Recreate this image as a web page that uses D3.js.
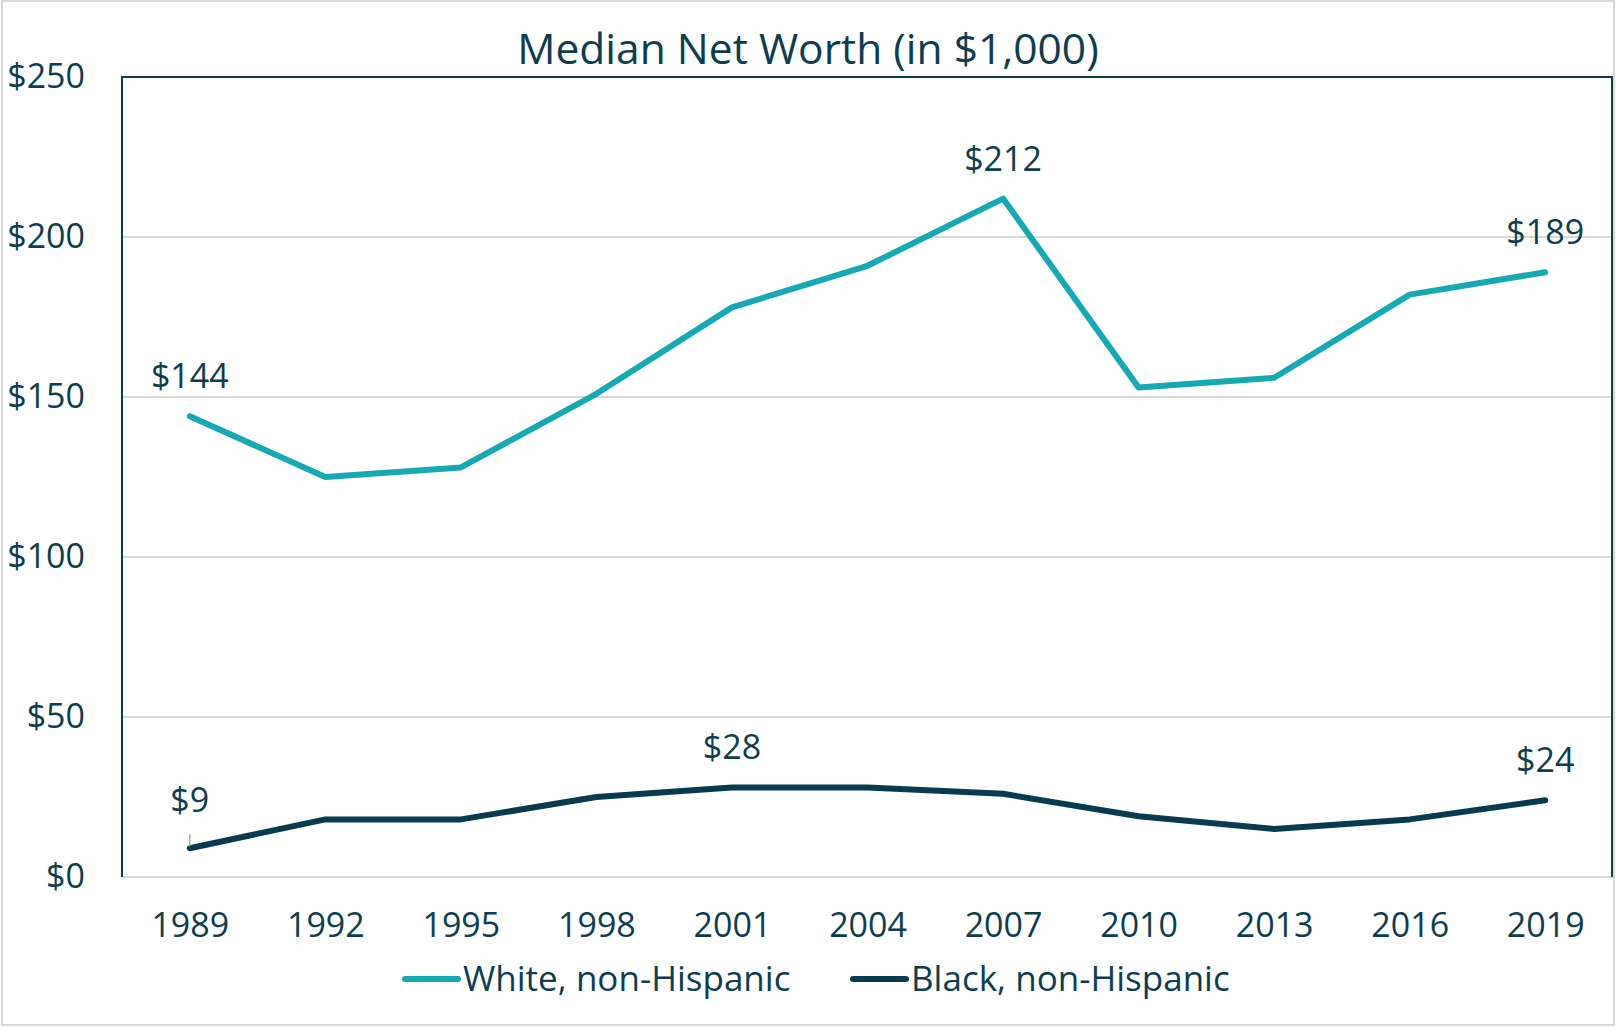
<!DOCTYPE html>
<html><head><meta charset="utf-8">
<script src="https://cdn.jsdelivr.net/npm/d3@7"></script>
<style>html,body{margin:0;padding:0;background:#fff;}svg{display:block;}</style>
</head><body>
<script>
const years = ["1989","1992","1995","1998","2001","2004","2007","2010","2013","2016","2019"];
const whiteValues = [144,125,128,151,178,191,212,153,156,182,189];
const blackValues = [9,18,18,25,28,28,26,19,15,18,24];
const yTicks = [0,50,100,150,200,250];
const seriesNames = ["White, non-Hispanic","Black, non-Hispanic"];
const whiteLabelIdx = [0,6,10];
const blackLabelIdx = [0,4,10];

const W=1616,H=1027;
const textColor="#0d3d4e", whiteColor="#16a8b3", blackColor="#083b4d", gridColor="#d9d9d9";
const font="'Open Sans', sans-serif";
const m={left:122,right:1613,top:77,bottom:877};

const svg=d3.select("body").append("svg").attr("width",W).attr("height",H);
svg.append("rect").attr("x",2).attr("y",1).attr("width",W-4).attr("height",H-3)
  .attr("fill","#fff").attr("stroke","#d9d9d9").attr("stroke-width",2);

const x=d3.scalePoint().domain(years).range([m.left,m.right]).padding(0.5);
const y=d3.scaleLinear().domain([0,250]).range([m.bottom,m.top]);

// gridlines
svg.append("g").selectAll("line").data(yTicks.filter(d=>d<250)).join("line")
  .attr("x1",m.left).attr("x2",m.right).attr("y1",d=>y(d)).attr("y2",d=>y(d))
  .attr("stroke",gridColor).attr("stroke-width",2);

// frame (left, top, right)
svg.append("path").attr("d",`M${m.left},${m.bottom}V${m.top}H${m.right-1}V${m.bottom}`)
  .attr("fill","none").attr("stroke",textColor).attr("stroke-width",2);

// y axis
const yAxis=d3.axisLeft(y).tickValues(yTicks).tickFormat(d=>"$"+d).tickSize(0).tickPadding(37);
const gy=svg.append("g").attr("transform",`translate(${m.left},0)`).call(yAxis);
gy.select(".domain").remove();
gy.selectAll("text").attr("fill",textColor).style("font-family",font).style("font-size","34px");

// x axis
const xAxis=d3.axisBottom(x).tickSize(0).tickPadding(0);
const gx=svg.append("g").attr("transform",`translate(0,${m.bottom})`).call(xAxis);
gx.select(".domain").remove();
gx.selectAll("text").attr("fill",textColor).style("font-family",font).style("font-size","34px")
  .attr("dy",null).attr("y",60);

// lines
const line=d3.line().x((d,i)=>x(years[i])).y(d=>y(d));
svg.append("path").datum(whiteValues).attr("d",line).attr("fill","none")
  .attr("stroke",whiteColor).attr("stroke-width",6).attr("stroke-linejoin","round").attr("stroke-linecap","round");
svg.append("path").datum(blackValues).attr("d",line).attr("fill","none")
  .attr("stroke",blackColor).attr("stroke-width",6).attr("stroke-linejoin","round").attr("stroke-linecap","round");

// leader line for $9
svg.append("line").attr("x1",x(years[0])).attr("x2",x(years[0]))
  .attr("y1",y(blackValues[0])-14).attr("y2",y(blackValues[0])-2)
  .attr("stroke","#a6a6a6").attr("stroke-width",1.5);

// data labels
function labels(vals,idx,offsets){
  svg.append("g").selectAll("text").data(idx).join("text")
    .attr("x",i=>x(years[i])).attr("y",(i,k)=>y(vals[i])-offsets[k]).attr("dy","0.35em")
    .attr("text-anchor","middle").attr("fill",textColor)
    .style("font-family",font).style("font-size","34px").text(i=>"$"+vals[i]);
}
labels(whiteValues,whiteLabelIdx,[40,40,40]);
labels(blackValues,blackLabelIdx,[48,40,40]);

// title
svg.append("text").attr("x",808).attr("y",64).attr("text-anchor","middle").attr("fill",textColor)
  .style("font-family",font).style("font-size","42.5px").text("Median Net Worth (in $1,000)");

// legend
const legend=[{name:seriesNames[0],color:whiteColor,x:402},{name:seriesNames[1],color:blackColor,x:850}];
const lg=svg.append("g").selectAll("g").data(legend).join("g").attr("transform",d=>`translate(${d.x},979)`);
lg.append("line").attr("x1",3).attr("x2",56).attr("stroke",d=>d.color).attr("stroke-width",6).attr("stroke-linecap","round");
lg.append("text").attr("x",61).attr("dy","0.35em").attr("fill",textColor)
  .style("font-family",font).style("font-size","35px").text(d=>d.name);
</script>
</body></html>
